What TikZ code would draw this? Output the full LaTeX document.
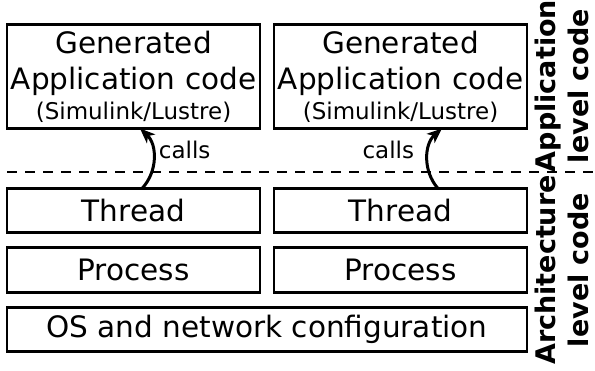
\documentclass[tikz,border=0pt]{standalone}
\usepackage{fontspec}
\setmainfont{DejaVu Sans}
\usepackage{tikz}
\usetikzlibrary{arrows.meta, positioning}

\begin{document}
\begin{tikzpicture}[x=1pt, y=-1pt, node distance=15pt,
    layer/.style={draw, line width=2.5pt, outer sep=0pt, inner sep=0pt, align=center, minimum width=253pt, font=\fontsize{29.5}{36}\selectfont},
    callarrow/.style={-{Stealth[length=15pt,width=12pt,inset=4pt]}, line width=3pt},
    callnote/.style={inner sep=0pt, font=\fontsize{23}{27}\selectfont},
    levellabel/.style={rotate=90, align=center, inner sep=0pt, font=\fontsize{27}{33}\selectfont\bfseries}]
    \useasboundingbox (0,0) rectangle (595,370);

    % Generated application code
    \node[layer, minimum height=104pt] (app1) at (133.5,76.5) {Generated\\Application code\\[-6pt]{\fontsize{23}{27}\selectfont (Simulink/Lustre)}};
    \node[layer, minimum height=104pt, right=14pt of app1] (app2) {Generated\\Application code\\[-6pt]{\fontsize{23}{27}\selectfont (Simulink/Lustre)}};

    % Architecture layers
    \node[layer, minimum height=44pt, below=60pt of app1] (thread1) {Thread};
    \node[layer, minimum height=44pt, below=60pt of app2] (thread2) {Thread};
    \node[layer, minimum height=45pt, below=of thread1] (proc1) {Process};
    \node[layer, minimum height=45pt, below=of thread2] (proc2) {Process};
    \node[layer, minimum width=520pt, minimum height=44pt, below=15pt of proc1.south west, anchor=north west] (os) {OS and network configuration};

    % Separator between the two levels
    \coordinate (sepL) at (7,172);
    \coordinate (sepR) at (595,172);
    \draw[line width=2.5pt, dash pattern=on 10pt off 8pt] (sepL) -- (sepR);

    % Calls
    \draw[callarrow] ([xshift=8.5pt]thread1.north) to[bend right=45] node[callnote, right=4pt, yshift=8pt] {calls} ([xshift=6.5pt]app1.south);
    \draw[callarrow] ([xshift=37.5pt]thread2.north) to[bend left=45] node[callnote, left=12pt, yshift=8pt] {calls} ([xshift=41.5pt]app2.south);

    % Level labels
    \node[levellabel] (applvl) at (562,86) {Application\\level code};
    \node[levellabel] (archlvl) at (562,270) {Architecture\\level code};
\end{tikzpicture}
\end{document}
